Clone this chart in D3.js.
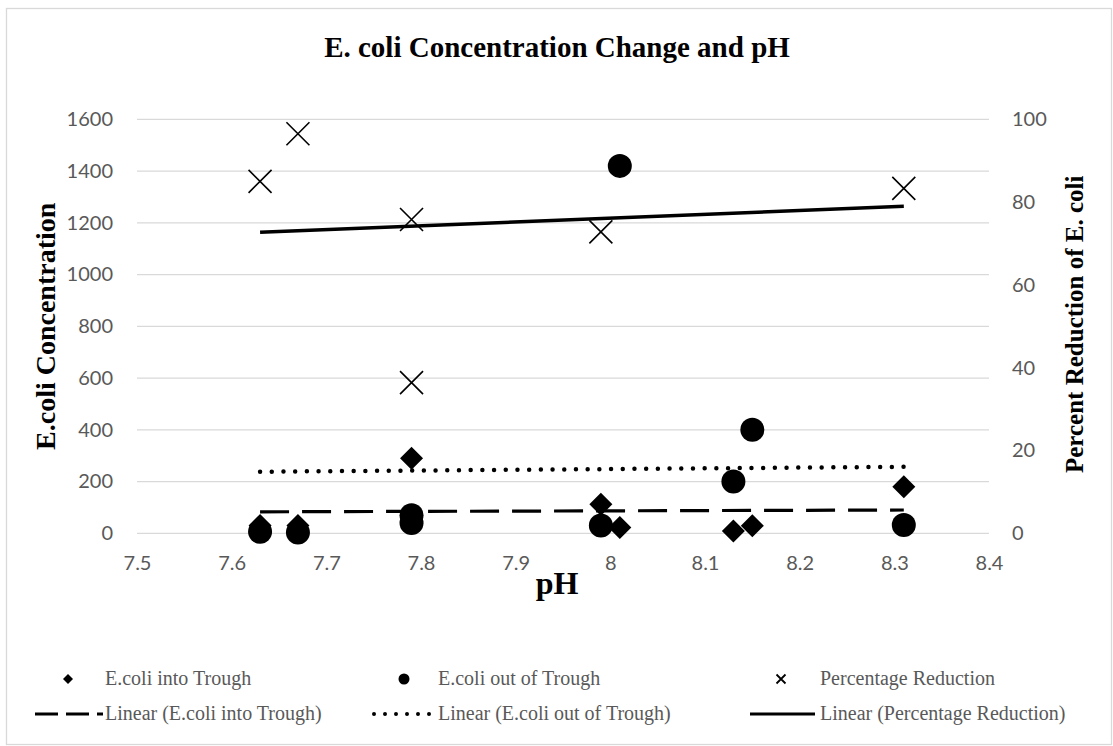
<!DOCTYPE html>
<html><head><meta charset="utf-8">
<script src="https://cdn.jsdelivr.net/npm/d3@7"></script>
<style>body{margin:0;background:#fff}svg{display:block}</style>
</head><body>
<svg id="c" width="1113" height="746"></svg>
<script>
const phInto = [7.63, 7.67, 7.79, 7.99, 8.01, 8.13, 8.15, 8.31];
const ecoliInto = [30, 30, 290, 112, 22, 9, 29, 180];
const phOut = [7.63, 7.67, 7.79, 7.79, 7.99, 8.01, 8.13, 8.15, 8.31];
const ecoliOut = [6, 3, 70, 40, 30, 1420, 200, 400, 32];
const phPct = [7.63, 7.67, 7.79, 7.79, 7.99, 8.31];
const pctReduction = [85, 96.5, 75.8, 36.4, 72.8, 83.3];
const trendPh = [7.63, 8.31];
const trendInto = [83, 90];
const trendOut = [238, 257];
const trendPct = [72.7, 79.0];
const xTicks = [7.5, 7.6, 7.7, 7.8, 7.9, 8, 8.1, 8.2, 8.3, 8.4];
const yTicks = [0, 200, 400, 600, 800, 1000, 1200, 1400, 1600];
const y2Ticks = [0, 20, 40, 60, 80, 100];

const svg = d3.select('#c');
const L = 137, R = 989, T = 119.3, B = 533.3;
const x = d3.scaleLinear().domain([7.5, 8.4]).range([L, R]);
const y = d3.scaleLinear().domain([0, 1600]).range([B, T]);
const y2 = d3.scaleLinear().domain([0, 100]).range([B, T]);

svg.append('rect').attr('x', 6.5).attr('y', 8.5).attr('width', 1105).attr('height', 736)
  .attr('fill', '#fff').attr('stroke', '#d9d9d9').attr('stroke-width', 1.3);

// gridlines
svg.append('g').selectAll('line').data(yTicks).join('line')
  .attr('x1', L).attr('x2', R).attr('y1', d => y(d)).attr('y2', d => y(d))
  .attr('stroke', '#d9d9d9').attr('stroke-width', 1.3);

const tickFont = 'Lato, "Open Sans", sans-serif';
// left axis
const gl = svg.append('g').attr('transform', `translate(${L},0)`)
  .call(d3.axisLeft(y).tickValues(yTicks).tickFormat(d3.format('d')).tickSize(0).tickPadding(24));
gl.select('.domain').remove();
gl.selectAll('text').attr('font-family', tickFont).attr('font-size', 20).attr('fill', '#595959');
// right axis
const gr = svg.append('g').attr('transform', `translate(${R},0)`)
  .call(d3.axisRight(y2).tickValues(y2Ticks).tickFormat(d3.format('d')).tickSize(0).tickPadding(23));
gr.select('.domain').remove();
gr.selectAll('text').attr('font-family', tickFont).attr('font-size', 20).attr('fill', '#595959');
// bottom axis
const gb = svg.append('g').attr('transform', `translate(0,${B})`)
  .call(d3.axisBottom(x).tickValues(xTicks).tickFormat(d3.format('')).tickSize(0).tickPadding(23));
gb.select('.domain').remove();
gb.selectAll('text').attr('font-family', tickFont).attr('font-size', 20).attr('fill', '#595959');

const serif = '"Liberation Serif", "Times New Roman", serif';
svg.append('text').attr('x', 557).attr('y', 57).attr('text-anchor', 'middle')
  .attr('font-family', serif).attr('font-weight', 'bold').attr('font-size', 29)
  .text('E. coli Concentration Change and pH');
svg.append('text').attr('transform', `translate(55,${(T + B) / 2}) rotate(-90)`).attr('text-anchor', 'middle')
  .attr('font-family', serif).attr('font-weight', 'bold').attr('font-size', 28)
  .text('E.coli Concentration');
svg.append('text').attr('transform', `translate(1083,${(T + B) / 2 - 2}) rotate(-90)`).attr('text-anchor', 'middle')
  .attr('font-family', serif).attr('font-weight', 'bold').attr('font-size', 25)
  .text('Percent Reduction of E. coli');
svg.append('text').attr('x', (L + R) / 2 - 6).attr('y', 594).attr('text-anchor', 'middle')
  .attr('font-family', serif).attr('font-weight', 'bold').attr('font-size', 32)
  .text('pH');

// trendlines
const line = (ys, sc) => d3.line()(trendPh.map((p, i) => [x(p), sc(ys[i])]));
svg.append('path').attr('d', line(trendInto, y)).attr('stroke', '#000').attr('stroke-width', 3.2)
  .attr('fill', 'none').attr('stroke-dasharray', '29 13');
svg.append('path').attr('d', line(trendOut, y)).attr('stroke', '#000').attr('stroke-width', 4.5)
  .attr('fill', 'none').attr('stroke-dasharray', '0 11.7').attr('stroke-linecap', 'round');
svg.append('path').attr('d', line(trendPct, y2)).attr('stroke', '#000').attr('stroke-width', 3.5)
  .attr('fill', 'none');

// markers
const diamond = (cx, cy, r) => `M${cx},${cy - r}L${cx + r},${cy}L${cx},${cy + r}L${cx - r},${cy}Z`;
const cross = (cx, cy, r) => `M${cx - r},${cy - r}L${cx + r},${cy + r}M${cx - r},${cy + r}L${cx + r},${cy - r}`;

svg.append('g').selectAll('path').data(phInto).join('path')
  .attr('d', (p, i) => diamond(x(p), y(ecoliInto[i]), 11.5)).attr('fill', '#000');
svg.append('g').selectAll('circle').data(phOut).join('circle')
  .attr('cx', p => x(p)).attr('cy', (p, i) => y(ecoliOut[i])).attr('r', 12).attr('fill', '#000');
svg.append('g').selectAll('path').data(phPct).join('path')
  .attr('d', (p, i) => cross(x(p), y2(pctReduction[i]), 11.5))
  .attr('stroke', '#000').attr('stroke-width', 1.6).attr('fill', 'none');

// legend
const lg = svg.append('g').attr('font-family', serif).attr('font-size', 20).attr('fill', '#595959');
const r1 = 679, r2 = 714;
const items = [
  {t: 'E.coli into Trough', tx: 105, y: r1},
  {t: 'E.coli out of Trough', tx: 438, y: r1},
  {t: 'Percentage Reduction', tx: 820, y: r1},
  {t: 'Linear (E.coli into Trough)', tx: 105, y: r2},
  {t: 'Linear (E.coli out of Trough)', tx: 438, y: r2},
  {t: 'Linear (Percentage Reduction)', tx: 820, y: r2}
];
lg.selectAll('text').data(items).join('text').attr('x', d => d.tx).attr('y', d => d.y + 6).text(d => d.t);
svg.append('path').attr('d', diamond(68, r1, 5)).attr('fill', '#000');
svg.append('circle').attr('cx', 404).attr('cy', r1).attr('r', 5.5).attr('fill', '#000');
svg.append('path').attr('d', cross(781, r1, 4.5)).attr('stroke', '#000').attr('stroke-width', 1.8);
svg.append('path').attr('d', `M35,${r2}L103,${r2}`).attr('stroke', '#000').attr('stroke-width', 3).attr('stroke-dasharray', '23 8');
svg.append('path').attr('d', `M374,${r2}L434,${r2}`).attr('stroke', '#000').attr('stroke-width', 4)
  .attr('stroke-dasharray', '0 11').attr('stroke-linecap', 'round');
svg.append('path').attr('d', `M750,${r2}L815,${r2}`).attr('stroke', '#000').attr('stroke-width', 3.2);
</script>
</body></html>
